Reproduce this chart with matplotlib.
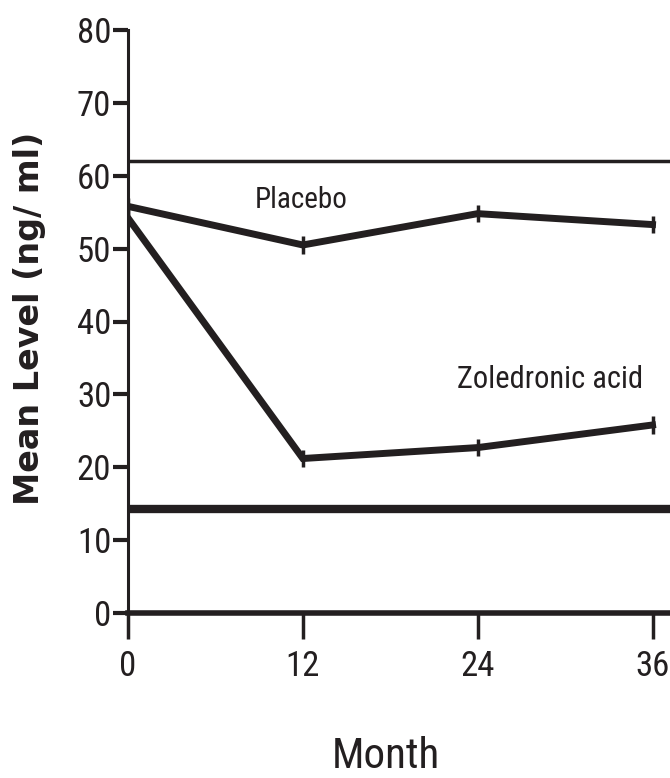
import matplotlib
matplotlib.use("Agg")
import matplotlib.pyplot as plt
from matplotlib import font_manager

months = [0, 12, 24, 36]
placebo = [55.8, 50.5, 54.8, 53.3]
zoledronic = [54.2, 21.2, 22.7, 25.8]
upper_ref = 62.0
lower_ref = 14.3
yticks = [0, 10, 20, 30, 40, 50, 60, 70, 80]
xticks = [0, 12, 24, 36]

entries = [(f.name, f.stretch) for f in font_manager.fontManager.ttflist]
names = {n for n, _ in entries}
cond = None
for cand in ['Liberation Sans Narrow', 'DejaVu Sans Condensed', 'Roboto Condensed', 'Open Sans Condensed']:
    if cand in names:
        cond = cand
        break
if cond is None:
    for n, st in entries:
        if st in ('condensed', 'semi-condensed', 'extra-condensed', 500, 'semi-expanded') and n in ('DejaVu Sans', 'Noto Sans', 'Open Sans', 'Roboto', 'Inter'):
            cond = n
            break
if cond is None:
    cond = 'DejaVu Sans'
plt.rcParams['font.family'] = [cond, 'DejaVu Sans']
plt.rcParams['font.stretch'] = 'condensed'

fig = plt.figure(figsize=(6.7, 7.78), dpi=100)
ax = fig.add_axes([128/670, (778-613)/778, 1 - 128/670, (613-30)/778])
ax.set_xlim(0, 37.2)
ax.set_ylim(0, 80)

col = '#231f20'
ax.axhline(upper_ref, color=col, lw=2.5)
ax.axhline(lower_ref, color=col, lw=6)

ax.plot(months, placebo, color=col, lw=5, solid_joinstyle='miter')
ax.plot(months, zoledronic, color=col, lw=5, solid_joinstyle='miter')
ax.errorbar(months, placebo, yerr=1.2, fmt='none', ecolor=col, elinewidth=2.5, capsize=0)
ax.errorbar(months, zoledronic, yerr=1.2, fmt='none', ecolor=col, elinewidth=2.5, capsize=0)

ax.text(8.7, 56.7, 'Placebo', fontsize=21, color=col, ha='left', va='center')
ax.text(22.6, 32.0, 'Zoledronic acid', fontsize=22, color=col, ha='left', va='center')

for s in ['top', 'right']:
    ax.spines[s].set_visible(False)
ax.spines['left'].set_linewidth(2.2)
ax.spines['bottom'].set_linewidth(4)
ax.spines['left'].set_color(col)
ax.spines['bottom'].set_color(col)
ax.spines['left'].set_bounds(0, 80)

ax.set_xticks(xticks)
ax.set_yticks(yticks)
ax.set_xticklabels([str(v) for v in xticks])
ax.set_yticklabels([str(v) for v in yticks])
ax.tick_params(axis='x', direction='out', length=19, width=2.5, pad=8, labelsize=25, colors=col)
ax.tick_params(axis='y', direction='out', length=11, width=3, pad=1, labelsize=25, colors=col)

fig.text(386/670, 1 - 756/778, 'Month', fontsize=31, color=col, ha='center', va='center')
fig.text(30/670, 1 - 318/778, 'Mean Level (ng/ ml)', fontsize=24, fontweight='bold',
         family=['DejaVu Sans'], stretch='normal',
         color=col, rotation=90, ha='center', va='center')

fig.savefig('out.png', dpi=100)
